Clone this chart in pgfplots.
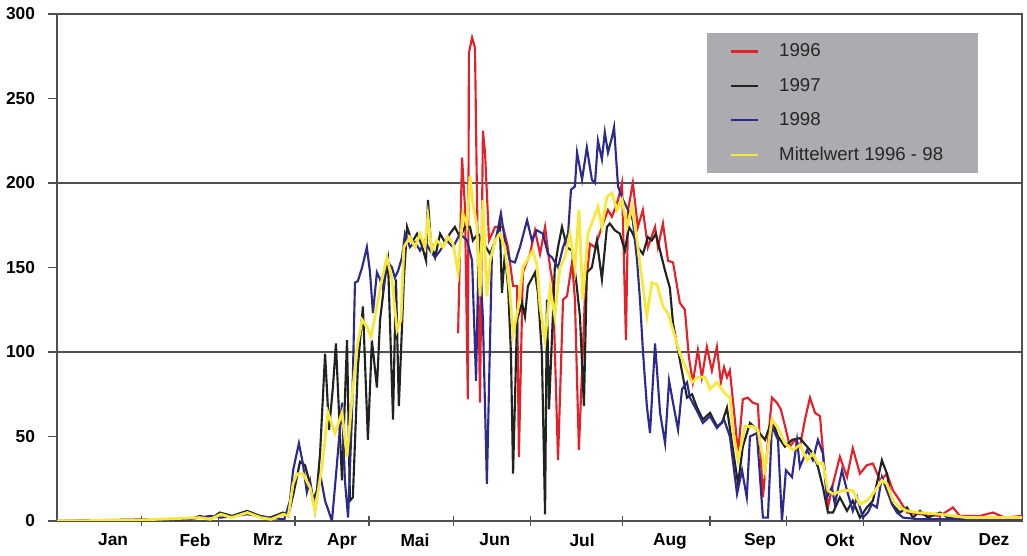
\documentclass[border=0pt]{standalone}
\usepackage{fontspec}
\setmainfont{Liberation Sans}
\usepackage{pgfplots}
\pgfplotsset{compat=1.18}
\definecolor{c96}{RGB}{228,32,40}
\definecolor{c97}{RGB}{32,36,30}
\definecolor{c98}{RGB}{44,42,140}
\definecolor{cmw}{RGB}{248,232,60}
\definecolor{leggray}{RGB}{172,172,176}
\definecolor{axgray}{RGB}{80,80,80}
\begin{document}
\begin{tikzpicture}
\begin{axis}[
  scale only axis,
  width=723.75pt, height=380.25pt,
  xmin=0, xmax=365, ymin=0, ymax=300,
  axis line style={axgray, line width=0.9pt},
  xtick={32,61,90,118,150,179,214,247,276,305,334},
  xticklabels={},
  x tick style={axgray, line width=0.9pt},
  xtick align=center,
  major tick length=7pt,
  extra x ticks={21.2,52.2,79.8,107.8,135.4,165.6,198.6,231.8,265.9,296.1,324.9,354.4},
  extra x tick labels={Jan,Feb,Mrz,Apr,Mai,Jun,Jul,Aug,Sep,Okt,Nov,Dez},
  extra x tick style={major tick length=0pt, tick label style={yshift=-6pt}},
  ytick={0,50,100,150,200,250,300},
  y tick style={axgray, line width=0.8pt},
  ytick align=outside, ytick pos=left,
  xtick pos=bottom,
  yticklabel style={xshift=-6pt},
  extra y ticks={100,200},
  extra y tick labels={},
  extra y tick style={grid=major, major grid style={axgray, line width=0.8pt}, major tick length=0pt},
  tick label style={font=\fontsize{13}{15}\selectfont\bfseries, text=black},
  /pgf/number format/assume math mode=true,
  legend style={fill=leggray, draw=none, at={(rel axis cs:0.6736,0.9625)}, anchor=north west,
    font=\fontsize{14}{16}\selectfont, text=black!85, inner xsep=17pt, inner ysep=6pt, row sep=10.5pt},
  legend cell align=left,
  legend image code/.code={\draw[#1, line width=1.8pt] (0pt,0pt) -- (20pt,0pt); \path (33pt,0pt);},
]
% 1996
\addplot[c96, line width=1.6pt] coordinates {
(151.7,111)(153.2,215)(154.3,186)(155.4,72)(155.8,277)(157,286)(158.1,280)(158.8,198)(160,70)
(161.1,231)(161.9,218)(163.4,166)(165.7,174)(168.7,174)(170.6,162)(172.5,139)(174,139)(174.7,38)
(176.2,147)(178.9,158)(180.8,172)(182.7,158)(184.6,174)(186.5,150)(187.6,140)(189.5,36)(191.4,131)
(192.9,133)(194.8,153)(195.9,131)(197.4,42)(199.7,133)(201.6,164)(203.5,162)(206.1,174)(208.4,184)
(209.9,180)(212.2,190)(213.7,200)(215.2,107)(216,184)(217.8,200)(219.7,174)(221.6,184)(223.5,162)
(226.2,174)(227.3,162)(229.2,176)(231.1,154)(233,153)(235.6,129)(237.5,125)(239,97)(240.5,82)
(242.4,101)(243.9,85)(245.8,103)(247.7,89)(249.6,103)(251.1,82)(252.3,91)(253.4,85)(254.5,89)
(256.4,60)(257.6,40)(259.4,72)(261.3,73)(263.2,70)(265.1,69)(267,14)(268.5,40)(270.4,73)(272.3,70)
(273.8,66)(275.7,54)(277.2,44)(279.1,48)(281,44)(282.9,60)(284.8,73)(286.7,64)(288.6,62)(290.1,34)
(291.6,8)(293.5,22)(296.1,38)(298.8,26)(301,43)(303.7,28)(306.3,33)(308.6,34)(311.3,24)(313.9,28)
(316.2,18)(318.8,12)(321.5,5)(326.4,4)(333.9,3)(338.9,8)(341.5,3)(349.1,3)(354,5)(358.5,2)(365,3)
};
\addlegendentry{1996}
% 1997
\addplot[c97, line width=1.6pt] coordinates {
(0,0)(16.3,0.5)(35.2,1)(50.3,1)(54.1,3)(57.9,1)(61.6,5)(66.2,3)(71.9,6)(76.8,3)(80.6,2)(85.5,5)
(87.4,3)(89.3,15)(91.9,35)(93.8,33)(95.7,22)(96.8,12)(98.3,18)(99.5,40)(101.4,99)(102.9,54)(104.4,80)
(105.5,105)(107.8,24)(109.7,107)(110.8,12)(111.9,14)(113.8,91)(115.7,127)(117.6,48)(119.1,107)
(121,79)(122.2,119)(124,143)(125.2,154)(127.1,60)(128.2,143)(129.3,68)(131.2,143)(132.4,174)
(134.3,165)(136.2,170)(138,163)(139.6,154)(140.3,190)(141.4,165)(143,156)(144.9,170)(146.7,165)
(148.6,170)(150.5,174)(152.4,168)(154.3,174)(156.2,174)(157.3,166)(159.2,170)(161.1,165)(163.8,158)
(165.7,166)(167.5,174)(168.3,135)(169.4,158)(170.6,139)(171.7,99)(172.5,28)(174,119)(175.9,129)
(177,121)(178.1,139)(180.8,147)(181.9,135)(183.4,99)(184.6,4)(185.3,131)(186.1,66)(188.3,150)
(189.5,162)(191,174)(192.9,162)(194.8,160)(196.3,143)(197.8,121)(199.3,68)(200.4,147)(202.3,150)
(204.2,166)(206.1,143)(208,174)(209.1,176)(211,172)(212.9,170)(214.8,160)(216.3,174)(217.8,170)
(219.7,162)(221.6,158)(223.5,168)(225,166)(226.5,170)(228.1,160)(230,148)(231.8,138)(233,117)
(234.9,101)(236.8,85)(238.3,73)(240.2,75)(242.1,67)(244.3,60)(247,64)(249.6,56)(251.5,58)(253.4,67)
(255.3,46)(257.6,22)(259.4,44)(262.1,58)(264.7,54)(267.8,48)(270.4,60)(272.7,50)(275.3,44)(278,48)
(281,49)(283.7,44)(285.9,40)(287.8,32)(289.7,20)(291.6,5)(293.5,5)(296.1,14)(298.8,6)(301,12)
(303.7,2)(306.3,8)(308.6,12)(310.5,25)(312,36)(313.9,28)(315.8,10)(318.8,5)(321.5,8)(323.7,2)
(326.4,6)(329.4,2)(333.9,5)(337,2)(341.5,1)(356.6,1)(365,2)
};
\addlegendentry{1997}
% 1998
\addplot[c98, line width=1.6pt] coordinates {
(0,0)(30,0.5)(50,1)(57.9,3)(62,2)(72,4)(80,2)(86,1)(88.1,12)(89.3,30)(91.5,46)(93,34)(94.5,17)
(95.7,24)(97.6,6)(99.5,28)(101.4,12)(104,0)(105.9,34)(107.8,70)(108.9,24)(110.1,2)(111.6,64)
(112.7,141)(113.8,142)(115.4,150)(117.2,162)(118.4,147)(119.5,123)(121,147)(122.2,143)(123.3,137)
(124.8,154)(126.7,150)(127.8,144)(129,148)(130.5,156)(131.6,170)(133.5,162)(135.4,165)(137.3,160)
(139.2,166)(141.1,160)(143,156)(144.9,160)(147.5,166)(149.8,162)(152.4,170)(155.1,166)(157,154)
(158.5,83)(159.6,170)(161.1,119)(162.6,22)(164.5,158)(166.4,170)(167.9,182)(169.4,166)(171.3,154)
(173.2,153)(175.1,162)(177.8,178)(179.6,166)(181.5,172)(183.8,170)(185.7,158)(187.2,156)(189.5,150)
(191.4,162)(193.3,170)(194.4,196)(195.9,198)(196.7,218)(198.6,202)(200.4,221)(202.3,202)(203.5,200)
(204.6,225)(206.1,214)(207.2,230)(208.4,218)(209.9,227)(210.7,233)(212.2,198)(214.1,190)(216,184)
(217.8,178)(219.4,154)(220.5,131)(221.6,101)(223.1,68)(224.3,52)(226.2,105)(228.1,64)(230,46)
(231.5,83)(233,70)(234.9,54)(236.4,78)(238.3,82)(239.4,73)(242.1,65)(244.3,58)(247,62)(249.6,55)
(252.3,60)(254.5,50)(257.2,16)(259.1,30)(260.9,14)(262.1,50)(264.7,52)(267,2)(268.9,2)(270.4,56)
(272.7,48)(274.2,0)(275.7,30)(278,26)(279.9,48)(281,32)(283.7,42)(285.9,36)(287.8,48)(289.7,40)
(291.2,14)(293.1,20)(294.2,10)(296.9,30)(298.8,18)(301,6)(302.6,14)(304.8,2)(306.7,5)(308.2,10)
(310.1,8)(312,26)(313.9,18)(315.8,10)(317.7,5)(320,2)(326.4,1)(341.5,1)(365,1)
};
\addlegendentry{1998}
% Mittelwert
\addplot[cmw, line width=2.1pt] coordinates {
(0,0)(30,0.5)(54,2)(58,1)(62,4)(66,2)(72,5)(77,2)(81,1)(85.5,4)(87.5,3)(89.3,22)(90.8,28)(93,28)
(95.7,20)(97.6,6)(100.2,32)(102.5,64)(105.1,52)(107.8,64)(109.7,38)(111.6,73)(113.5,103)(115.4,119)
(117.2,115)(118.8,109)(121,127)(122.9,143)(124.8,156)(126.7,143)(128.6,113)(130.1,119)(131.2,162)
(133.5,168)(135.4,162)(137.3,170)(139.2,162)(140.3,180)(141.8,160)(143.7,166)(146,162)(147.9,168)
(149.8,164)(151.7,147)(153.5,182)(155.1,175)(156.2,204)(157.3,188)(158.8,175)(160,133)(161.1,190)
(162.6,133)(163.8,154)(165.7,166)(167.5,170)(169.4,162)(171.3,135)(172.5,111)(174.3,125)(176.2,150)
(178.1,155)(179.9,160)(181.5,152)(182.7,127)(184.6,107)(186.5,138)(188.3,121)(190.2,150)(192.1,156)
(194,170)(195.9,150)(197.4,184)(198.9,131)(200.8,170)(202.7,178)(204.6,186)(206.1,174)(208,192)
(209.9,194)(211.8,184)(213.7,190)(215.6,174)(217.5,186)(219.4,166)(221.2,144)(223.1,121)(225,141)
(226.9,140)(229.2,127)(231.1,123)(233,113)(235.6,99)(238.3,89)(240.2,82)(242.4,85)(245.1,85)(247,78)
(249.6,82)(252.3,76)(254.5,73)(255.6,54)(257.6,36)(260.2,56)(262.9,56)(265.1,54)(267.8,30)(270.4,60)
(272.7,55)(275.3,46)(278.4,42)(281,45)(283.7,36)(285.9,40)(287.8,34)(289.7,34)(291.6,18)(293.5,16)
(297.3,18)(301,18)(303.7,10)(306.3,12)(308.6,16)(312,24)(313.9,22)(316.2,12)(318.8,8)(321.5,6)
(325.3,5)(333.9,4)(344.2,2)(356.6,2)(365,2)
};
\addlegendentry{\makebox[130pt][l]{Mittelwert 1996 - 98}}
\end{axis}
\pgfresetboundingbox
\path ([shift={(-42.75pt,-26.25pt)}]current axis.south west) rectangle ([shift={(3.75pt,10.5pt)}]current axis.north east);
\end{tikzpicture}
\end{document}
